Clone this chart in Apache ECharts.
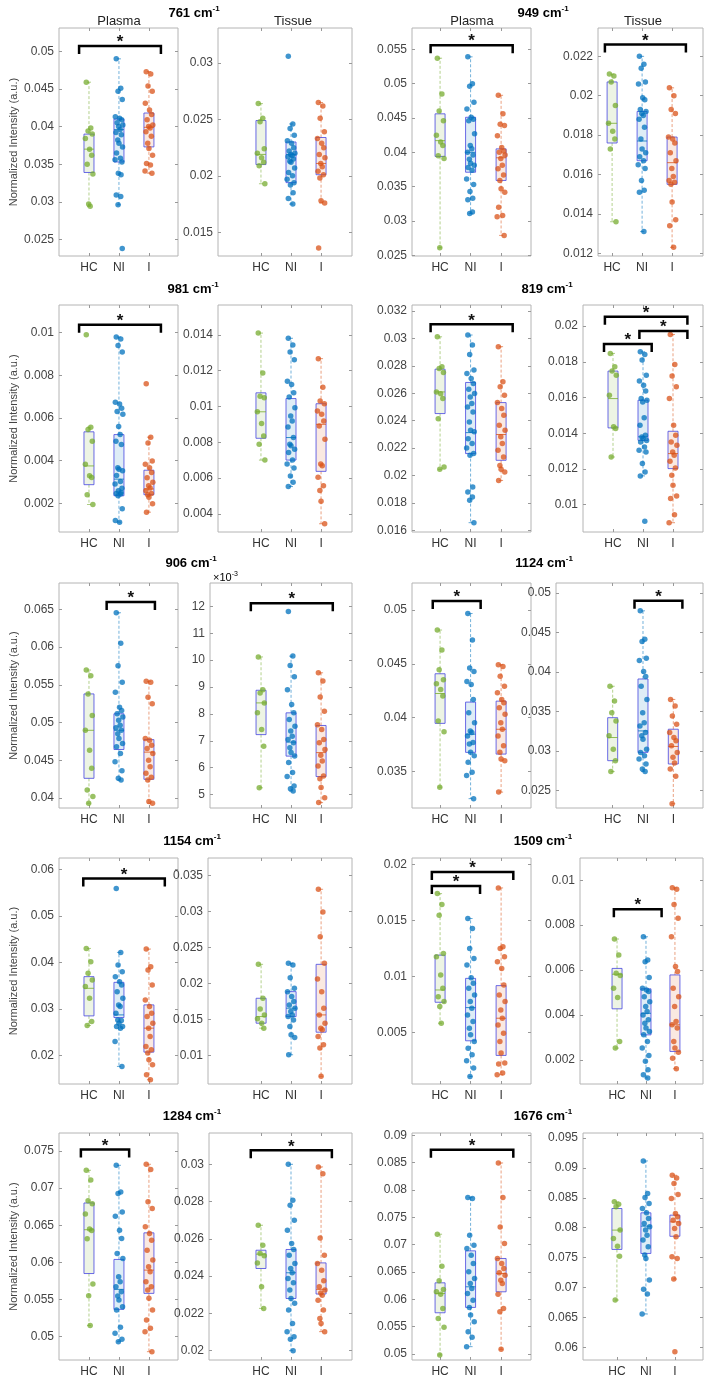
<!DOCTYPE html>
<html lang="en">

<head>
    <meta charset="UTF-8">
    <title>Raman peaks boxplots</title>
    <script src="https://cdn.jsdelivr.net/npm/echarts@6.0.0/dist/echarts.min.js"></script>
    <style>
        body { margin: 0; background: #fff; }
    </style>
</head>

<body>
    <div id="main" style="width: 709px;height:1382px;"></div>
    <script type="text/javascript">
        // groups and peaks
        const groups = ['HC', 'NI', 'I'];
        const peaks = ['761', '949', '981', '819', '906', '1124', '1154', '1509', '1284', '1676'];

        // each panel: points per group [HC, NI, I], box [low whisker, q1, median, q3, high whisker], tick values
        const plasma761 = [
            [0.0459, 0.0398, 0.0394, 0.0390, 0.0384, 0.0370, 0.0362, 0.0350, 0.0337, 0.0297, 0.0294],
            [0.0490, 0.0451, 0.0447, 0.0436, 0.0413, 0.0411, 0.0409, 0.0405, 0.0402, 0.0400, 0.0396, 0.0392, 0.0389, 0.0382, 0.0378, 0.0373, 0.0365, 0.0358, 0.0356, 0.0353, 0.0338, 0.0336, 0.0309, 0.0307, 0.0296, 0.0238],
            [0.0473, 0.0470, 0.0454, 0.0447, 0.0431, 0.0422, 0.0416, 0.0409, 0.0402, 0.0400, 0.0398, 0.0393, 0.0387, 0.0378, 0.0371, 0.0362, 0.0351, 0.0349, 0.0341, 0.0338]
        ];
        const plasma761Box = [[0.0294, 0.0339, 0.0370, 0.0390, 0.0459], [0.0296, 0.0353, 0.0396, 0.0410, 0.0490], [0.0338, 0.0373, 0.0399, 0.0418, 0.0473]];
        const plasma761Ticks = [0.025, 0.03, 0.035, 0.04, 0.045, 0.05];

        const tissue761 = [
            [0.0264, 0.0251, 0.0248, 0.0224, 0.0220, 0.0216, 0.0212, 0.0209, 0.0193],
            [0.0306, 0.0246, 0.0242, 0.0236, 0.0231, 0.0229, 0.0225, 0.0222, 0.0220, 0.0219, 0.0218, 0.0217, 0.0215, 0.0213, 0.0212, 0.0207, 0.0203, 0.0200, 0.0197, 0.0194, 0.0192, 0.0185, 0.0180, 0.0175],
            [0.0265, 0.0262, 0.0251, 0.0239, 0.0233, 0.0229, 0.0225, 0.0219, 0.0216, 0.0211, 0.0208, 0.0204, 0.0201, 0.0198, 0.0178, 0.0176, 0.0136]
        ];
        const tissue761Box = [[0.0193, 0.0210, 0.0219, 0.0249, 0.0264], [0.0175, 0.0194, 0.0219, 0.0230, 0.0246], [0.0176, 0.0201, 0.0211, 0.0234, 0.0265]];
        const tissue761Ticks = [0.015, 0.02, 0.025, 0.03];

        const plasma949 = [
            [0.0537, 0.0485, 0.0460, 0.0446, 0.0425, 0.0415, 0.0410, 0.0395, 0.0391, 0.0261],
            [0.0539, 0.0500, 0.0496, 0.0473, 0.0463, 0.0451, 0.0448, 0.0446, 0.0427, 0.0410, 0.0405, 0.0400, 0.0396, 0.0390, 0.0384, 0.0381, 0.0378, 0.0374, 0.0361, 0.0353, 0.0343, 0.0333, 0.0331, 0.0313, 0.0311],
            [0.0483, 0.0456, 0.0441, 0.0439, 0.0424, 0.0407, 0.0402, 0.0400, 0.0396, 0.0391, 0.0381, 0.0376, 0.0367, 0.0359, 0.0347, 0.0342, 0.0320, 0.0308, 0.0306, 0.0279]
        ];
        const plasma949Box = [[0.0261, 0.0394, 0.0417, 0.0456, 0.0537], [0.0311, 0.0371, 0.0400, 0.0451, 0.0539], [0.0279, 0.0359, 0.0392, 0.0405, 0.0483]];
        const plasma949Ticks = [0.025, 0.03, 0.035, 0.04, 0.045, 0.05, 0.055];

        const tissue949 = [
            [0.0211, 0.0210, 0.0207, 0.0195, 0.0186, 0.0182, 0.0178, 0.0173, 0.0136],
            [0.0220, 0.0216, 0.0214, 0.0207, 0.0206, 0.0199, 0.0198, 0.0193, 0.0192, 0.0191, 0.0190, 0.0188, 0.0184, 0.0178, 0.0173, 0.0171, 0.0169, 0.0167, 0.0165, 0.0163, 0.0157, 0.0152, 0.0151, 0.0131],
            [0.0204, 0.0200, 0.0193, 0.0191, 0.0179, 0.0178, 0.0176, 0.0171, 0.0167, 0.0163, 0.0159, 0.0157, 0.0156, 0.0155, 0.0146, 0.0137, 0.0134, 0.0123]
        ];
        const tissue949Box = [[0.0136, 0.0176, 0.0186, 0.0207, 0.0211], [0.0131, 0.0167, 0.0177, 0.0192, 0.0220], [0.0123, 0.0155, 0.0166, 0.0179, 0.0204]];
        const tissue949Ticks = [0.012, 0.014, 0.016, 0.018, 0.02, 0.022];

        const plasma981 = [
            [0.0099, 0.00557, 0.00546, 0.00491, 0.00383, 0.00329, 0.00321, 0.0024, 0.00194],
            [0.0098, 0.0097, 0.0094, 0.0091, 0.00674, 0.00665, 0.00646, 0.0063, 0.00618, 0.0056, 0.00522, 0.00491, 0.00476, 0.00367, 0.00359, 0.00352, 0.0033, 0.00302, 0.0029, 0.0027, 0.00259, 0.0025, 0.00246, 0.00243, 0.00235, 0.00174, 0.00119, 0.00111],
            [0.0076, 0.0051, 0.00483, 0.00398, 0.00383, 0.00367, 0.00344, 0.0032, 0.00298, 0.00282, 0.00271, 0.00259, 0.00246, 0.0024, 0.00228, 0.00197, 0.00158]
        ];
        const plasma981Box = [[0.00194, 0.00287, 0.00375, 0.00535, 0.00557], [0.00111, 0.00235, 0.00313, 0.00522, 0.0098], [0.00158, 0.0024, 0.00267, 0.00355, 0.0051]];
        const plasma981Ticks = [0.002, 0.004, 0.006, 0.008, 0.01];

        const tissue981 = [
            [0.0141, 0.01187, 0.01057, 0.01048, 0.0097, 0.00904, 0.00835, 0.00789, 0.0070],
            [0.01381, 0.01344, 0.01304, 0.01261, 0.01141, 0.01122, 0.01076, 0.01052, 0.00993, 0.00946, 0.00919, 0.00885, 0.00826, 0.00789, 0.0078, 0.00761, 0.00742, 0.0070, 0.00678, 0.00656, 0.00611, 0.00576, 0.00552],
            [0.01267, 0.01107, 0.0103, 0.01015, 0.00974, 0.00956, 0.00919, 0.00891, 0.00817, 0.00678, 0.00669, 0.00604, 0.00557, 0.0053, 0.0047, 0.00344]
        ];
        const tissue981Box = [[0.0070, 0.00822, 0.0097, 0.01076, 0.0141], [0.00552, 0.0070, 0.00826, 0.01044, 0.01381], [0.00344, 0.00637, 0.0090, 0.01015, 0.01267]];
        const tissue981Ticks = [0.004, 0.006, 0.008, 0.01, 0.012, 0.014];

        const plasma819 = [
            [0.03012, 0.02793, 0.0278, 0.02752, 0.0261, 0.02597, 0.02561, 0.02415, 0.02062, 0.02045],
            [0.03025, 0.02952, 0.02883, 0.02769, 0.02744, 0.02708, 0.02671, 0.0263, 0.02598, 0.02573, 0.02525, 0.025, 0.02464, 0.0239, 0.0233, 0.0232, 0.02269, 0.02233, 0.02201, 0.0216, 0.02148, 0.01916, 0.0188, 0.01843, 0.01819, 0.01656],
            [0.0294, 0.02684, 0.02647, 0.02586, 0.02532, 0.02489, 0.0244, 0.02367, 0.0233, 0.02282, 0.02233, 0.02184, 0.02135, 0.02074, 0.02045, 0.02026, 0.01964]
        ];
        const plasma819Box = [[0.02045, 0.02452, 0.0261, 0.02776, 0.03012], [0.01656, 0.0216, 0.02313, 0.02679, 0.03025], [0.01964, 0.02111, 0.02299, 0.02532, 0.0294]];
        const plasma819Ticks = [0.016, 0.018, 0.02, 0.022, 0.024, 0.026, 0.028, 0.03, 0.032];

        const tissue819 = [
            [0.01847, 0.01772, 0.01748, 0.01725, 0.01613, 0.01436, 0.01426, 0.01267],
            [0.01856, 0.01841, 0.0181, 0.01725, 0.01692, 0.01669, 0.01636, 0.01594, 0.01585, 0.01575, 0.01486, 0.01445, 0.01389, 0.01379, 0.0137, 0.0136, 0.01351, 0.01323, 0.01305, 0.01295, 0.0123, 0.01183, 0.01161, 0.00907],
            [0.01953, 0.01785, 0.01721, 0.0166, 0.01594, 0.01445, 0.01389, 0.01351, 0.01333, 0.01295, 0.01277, 0.01243, 0.01206, 0.01165, 0.01109, 0.01049, 0.01034, 0.00944, 0.00899]
        ];
        const tissue819Box = [[0.01267, 0.0143, 0.01594, 0.01748, 0.01847], [0.01161, 0.0136, 0.0138, 0.01585, 0.01856], [0.00899, 0.01202, 0.01286, 0.01411, 0.01953]];
        const tissue819Ticks = [0.01, 0.012, 0.014, 0.016, 0.018, 0.02];

        const plasma906 = [
            [0.05697, 0.05623, 0.05381, 0.05096, 0.04899, 0.04636, 0.04395, 0.0411, 0.04022, 0.03934],
            [0.06456, 0.06053, 0.05754, 0.05535, 0.05404, 0.05206, 0.05162, 0.05118, 0.05075, 0.05031, 0.04965, 0.04934, 0.04899, 0.04855, 0.04789, 0.04724, 0.0468, 0.04592, 0.04482, 0.04364, 0.04263, 0.04241],
            [0.05548, 0.05535, 0.05338, 0.0525, 0.0479, 0.04768, 0.04702, 0.04658, 0.04592, 0.04504, 0.04417, 0.04329, 0.04276, 0.04241, 0.03956, 0.03934]
        ];
        const plasma906Box = [[0.03934, 0.04263, 0.04899, 0.05381, 0.05697], [0.04241, 0.04645, 0.04899, 0.05118, 0.06456], [0.03934, 0.0425, 0.0461, 0.04776, 0.05548]];
        const plasma906Ticks = [0.04, 0.045, 0.05, 0.055, 0.06, 0.065];

        const tissue906 = [
            [0.01012, 0.0089, 0.00878, 0.00841, 0.00804, 0.00742, 0.0068, 0.00525],
            [0.01181, 0.01015, 0.0098, 0.00938, 0.0089, 0.00835, 0.00804, 0.00779, 0.00754, 0.00736, 0.00717, 0.00705, 0.00693, 0.00674, 0.00656, 0.00643, 0.00619, 0.00582, 0.00567, 0.00532, 0.00522, 0.00513],
            [0.00953, 0.00922, 0.00863, 0.0081, 0.0076, 0.00742, 0.00705, 0.00693, 0.00668, 0.00646, 0.00625, 0.00606, 0.00569, 0.00559, 0.00526, 0.00488, 0.0047]
        ];
        const tissue906Box = [[0.00525, 0.00723, 0.00841, 0.00888, 0.01012], [0.00513, 0.00643, 0.00695, 0.00804, 0.01015], [0.0047, 0.00567, 0.00656, 0.00757, 0.00953]];
        const tissue906Ticks = [0.005, 0.006, 0.007, 0.008, 0.009, 0.010, 0.011, 0.012];

        const plasma1124 = [
            [0.04815, 0.0463, 0.04445, 0.04353, 0.04316, 0.04261, 0.042, 0.03969, 0.03867, 0.03352],
            [0.04969, 0.04723, 0.04461, 0.0443, 0.04337, 0.04307, 0.04168, 0.04045, 0.03952, 0.03876, 0.0386, 0.03829, 0.03768, 0.03753, 0.03676, 0.03645, 0.03583, 0.03491, 0.0346, 0.03245],
            [0.04492, 0.04476, 0.04384, 0.04291, 0.0423, 0.04168, 0.04137, 0.04091, 0.0403, 0.03952, 0.03891, 0.03829, 0.03737, 0.03676, 0.03614, 0.03599, 0.03306]
        ];
        const plasma1124Box = [[0.03352, 0.03946, 0.04224, 0.04408, 0.04815], [0.03245, 0.03676, 0.03845, 0.04144, 0.04969], [0.03306, 0.0366, 0.03891, 0.04153, 0.04492]];
        const plasma1124Ticks = [0.035, 0.04, 0.045, 0.05];

        const tissue1124 = [
            [0.03819, 0.03631, 0.03484, 0.03379, 0.03191, 0.03023, 0.02877, 0.02739],
            [0.04774, 0.04414, 0.04384, 0.04175, 0.04146, 0.04007, 0.03944, 0.03819, 0.03652, 0.03484, 0.03358, 0.03317, 0.03233, 0.03191, 0.03149, 0.03023, 0.02982, 0.0294, 0.02898, 0.02835, 0.02772, 0.02739],
            [0.03652, 0.03568, 0.03442, 0.03337, 0.03233, 0.0317, 0.03128, 0.03065, 0.02982, 0.02919, 0.02848, 0.02772, 0.0268, 0.02332]
        ];
        const tissue1124Box = [[0.02739, 0.02877, 0.0317, 0.03421, 0.03819], [0.02739, 0.02982, 0.03254, 0.03911, 0.04774], [0.02332, 0.02835, 0.03057, 0.03275, 0.03652]];
        const tissue1124Ticks = [0.025, 0.03, 0.035, 0.04, 0.045, 0.05];

        const plasma1154 = [
            [0.043, 0.04014, 0.03764, 0.03621, 0.03479, 0.03229, 0.02729, 0.02643],
            [0.05586, 0.04214, 0.03943, 0.038, 0.03693, 0.03586, 0.03514, 0.03371, 0.03229, 0.03086, 0.0305, 0.02907, 0.0275, 0.02764, 0.02693, 0.0262, 0.02621, 0.02586, 0.023, 0.01764],
            [0.04286, 0.03907, 0.03836, 0.03514, 0.03193, 0.0305, 0.02907, 0.02836, 0.02693, 0.02586, 0.02407, 0.02193, 0.02121, 0.0205, 0.01907, 0.018, 0.01586, 0.01479]
        ];
        const plasma1154Box = [[0.02643, 0.0285, 0.03443, 0.03693, 0.043], [0.01764, 0.02814, 0.02871, 0.03571, 0.04214], [0.01479, 0.02071, 0.02586, 0.03086, 0.04286]];
        const plasma1154Ticks = [0.02, 0.03, 0.04, 0.05, 0.06];

        const tissue1154 = [
            [0.02264, 0.01793, 0.01645, 0.01562, 0.01507, 0.01447, 0.01378],
            [0.02278, 0.02255, 0.02079, 0.01932, 0.01885, 0.01816, 0.01747, 0.01701, 0.01655, 0.01609, 0.01562, 0.01539, 0.01493, 0.01401, 0.01286, 0.01249, 0.01009],
            [0.03306, 0.02992, 0.02647, 0.02278, 0.02061, 0.01885, 0.01655, 0.01562, 0.01447, 0.01378, 0.01355, 0.01263, 0.01147, 0.01101, 0.0071]
        ];
        const tissue1154Box = [[0.01378, 0.01447, 0.01539, 0.01793, 0.02264], [0.01009, 0.01539, 0.01655, 0.01885, 0.02278], [0.0071, 0.01322, 0.01562, 0.02264, 0.03306]];
        const tissue1154Ticks = [0.01, 0.015, 0.02, 0.025, 0.03, 0.035];

        const plasma1509 = [
            [0.01741, 0.01643, 0.01548, 0.01205, 0.01176, 0.01012, 0.00893, 0.00818, 0.00774, 0.00729, 0.0058],
            [0.01518, 0.01429, 0.0125, 0.01161, 0.01101, 0.00988, 0.00938, 0.00893, 0.00833, 0.00774, 0.00714, 0.00655, 0.00595, 0.00536, 0.00476, 0.00417, 0.00357, 0.00298, 0.00244, 0.00179, 0.00104],
            [0.01792, 0.01265, 0.0125, 0.01176, 0.01131, 0.01071, 0.00923, 0.00833, 0.00774, 0.00699, 0.00625, 0.00565, 0.00491, 0.00417, 0.00313, 0.00223, 0.00214, 0.00134, 0.00119]
        ];
        const plasma1509Box = [[0.0058, 0.00768, 0.00878, 0.0119, 0.01741], [0.00104, 0.00423, 0.0072, 0.00982, 0.01518], [0.00119, 0.00292, 0.00625, 0.00917, 0.01792]];
        const plasma1509Ticks = [0.005, 0.01, 0.015, 0.02];

        const tissue1509 = [
            [0.00738, 0.00667, 0.00585, 0.00575, 0.00519, 0.00477, 0.00281, 0.00252],
            [0.00748, 0.00644, 0.00637, 0.00566, 0.00519, 0.00511, 0.00504, 0.00481, 0.00459, 0.00437, 0.00415, 0.004, 0.00378, 0.00363, 0.00341, 0.00326, 0.00311, 0.00281, 0.00252, 0.00219, 0.00193, 0.00156, 0.00133, 0.00119],
            [0.00966, 0.0096, 0.00892, 0.0083, 0.00748, 0.00615, 0.00593, 0.00519, 0.00481, 0.00437, 0.0037, 0.00356, 0.00341, 0.00281, 0.00252, 0.00234, 0.00207, 0.0016]
        ];
        const tissue1509Box = [[0.00252, 0.00427, 0.00581, 0.00607, 0.00738], [0.00119, 0.00311, 0.00407, 0.00516, 0.00748], [0.0016, 0.00237, 0.00356, 0.00578, 0.00966]];
        const tissue1509Ticks = [0.002, 0.004, 0.006, 0.008, 0.01];

        const plasma1284 = [
            [0.0724, 0.0711, 0.0683, 0.0679, 0.0665, 0.0645, 0.0643, 0.0632, 0.0571, 0.0555, 0.0515],
            [0.07307, 0.06949, 0.06927, 0.0668, 0.06622, 0.06434, 0.06322, 0.0612, 0.06053, 0.05807, 0.0574, 0.05673, 0.05605, 0.05547, 0.05493, 0.05404, 0.05359, 0.05126, 0.05045, 0.04964, 0.04933],
            [0.07321, 0.0725, 0.06815, 0.06725, 0.06479, 0.06389, 0.06299, 0.06165, 0.06031, 0.05941, 0.05874, 0.0574, 0.05673, 0.05628, 0.05516, 0.05359, 0.05225, 0.05112, 0.05067, 0.04798]
        ];
        const plasma1284Box = [[0.0515, 0.0585, 0.0644, 0.0680, 0.0724], [0.04933, 0.05368, 0.05637, 0.0604, 0.07307], [0.04798, 0.05583, 0.05896, 0.06398, 0.07321]];
        const plasma1284Ticks = [0.05, 0.055, 0.06, 0.065, 0.07, 0.075];

        const tissue1284 = [
            [0.02673, 0.02566, 0.02521, 0.02509, 0.02471, 0.02343, 0.02227],
            [0.030, 0.02807, 0.0278, 0.027, 0.02646, 0.02575, 0.02543, 0.02512, 0.02468, 0.02441, 0.02418, 0.02387, 0.02364, 0.02325, 0.0228, 0.02254, 0.02218, 0.02146, 0.02102, 0.02075, 0.02061, 0.020],
            [0.02986, 0.0295, 0.02604, 0.02512, 0.02468, 0.02432, 0.02375, 0.02343, 0.02325, 0.0231, 0.02298, 0.02271, 0.02218, 0.02173, 0.02146, 0.02102]
        ];
        const tissue1284Box = [[0.02227, 0.02441, 0.02518, 0.02539, 0.02673], [0.020, 0.0228, 0.02418, 0.02543, 0.030], [0.02102, 0.02304, 0.02329, 0.02471, 0.02986]];
        const tissue1284Ticks = [0.02, 0.022, 0.024, 0.026, 0.028, 0.03];

        const plasma1676 = [
            [0.07191, 0.06607, 0.06339, 0.0618, 0.06137, 0.06095, 0.05833, 0.0565, 0.05487, 0.04982],
            [0.07861, 0.07843, 0.07173, 0.0699, 0.06929, 0.06808, 0.06656, 0.06503, 0.06381, 0.0629, 0.06199, 0.06107, 0.05985, 0.05852, 0.05712, 0.0559, 0.05408, 0.05305, 0.05134],
            [0.08495, 0.07861, 0.07325, 0.0702, 0.06747, 0.06656, 0.06564, 0.06485, 0.06442, 0.06351, 0.0629, 0.06095, 0.05833, 0.05772, 0.05085]
        ];
        const plasma1676Box = [[0.04982, 0.05754, 0.06107, 0.06302, 0.07191], [0.05134, 0.05852, 0.06229, 0.06887, 0.07861], [0.05085, 0.06138, 0.06473, 0.06747, 0.08495]];
        const plasma1676Ticks = [0.05, 0.055, 0.06, 0.065, 0.07, 0.075, 0.08, 0.085, 0.09];

        const tissue1676 = [
            [0.08432, 0.08393, 0.08349, 0.0796, 0.0782, 0.07692, 0.07525, 0.06791],
            [0.09116, 0.08571, 0.08504, 0.08404, 0.08321, 0.08249, 0.08154, 0.08071, 0.08015, 0.0796, 0.07876, 0.07793, 0.07681, 0.07542, 0.07487, 0.07125, 0.0697, 0.06892, 0.06558],
            [0.08877, 0.08832, 0.08738, 0.08554, 0.08488, 0.08237, 0.08182, 0.08126, 0.08071, 0.07987, 0.07848, 0.07514, 0.07487, 0.07142, 0.05928]
        ];
        const tissue1676Box = [[0.06791, 0.07637, 0.0796, 0.08321, 0.08432], [0.06558, 0.0757, 0.08026, 0.08249, 0.09116], [0.07142, 0.07857, 0.08098, 0.0821, 0.08877]];
        const tissue1676Ticks = [0.06, 0.065, 0.07, 0.075, 0.08, 0.085, 0.09, 0.095];

        // layout
        const FONT = 'Liberation Sans, Arial, sans-serif';
        const colors = ['#77AC30', '#0072BD', '#D95319'];
        const fills = ['rgba(119,172,48,0.13)', 'rgba(0,114,189,0.13)', 'rgba(217,83,25,0.13)'];
        const rowTop = [28, 305, 583, 858, 1133];
        const rowBottom = [256, 532, 808, 1084, 1360];
        const jitter = [-0.09, 0.06, -0.03, 0.11, -0.12, 0.02, 0.09, -0.06, 0.13, -0.01, 0.04, -0.1, 0.08, -0.04, 0.0, 0.12, -0.08, 0.05, -0.13, 0.1, -0.02, 0.07];

        // sig: [x from, x to, y level] of the significance brackets
        const panels = [
            { pts: plasma761, box: plasma761Box, ticks: plasma761Ticks, row: 0, l: 59, r: 178, x: [0, 3.97], y: [0.0228, 0.0531], sig: [[0.67, 3.4, 0.0507]] },
            { pts: tissue761, box: tissue761Box, ticks: tissue761Ticks, row: 0, l: 218, r: 352, x: [-0.43, 4.03], y: [0.0129, 0.0331], sig: [] },
            { pts: plasma949, box: plasma949Box, ticks: plasma949Ticks, row: 0, l: 412, r: 531, x: [0.08, 3.98], y: [0.0249, 0.0581], sig: [[0.69, 3.38, 0.0556]] },
            { pts: tissue949, box: tissue949Box, ticks: tissue949Ticks, row: 0, l: 598, r: 703, x: [0.53, 4.03], y: [0.01186, 0.02344], sig: [[0.76, 3.46, 0.0226]] },
            { pts: plasma981, box: plasma981Box, ticks: plasma981Ticks, row: 1, l: 59, r: 178, x: [0, 3.97], y: [0.00065, 0.0113], sig: [[0.67, 3.4, 0.01037]] },
            { pts: tissue981, box: tissue981Box, ticks: tissue981Ticks, row: 1, l: 218, r: 352, x: [-0.43, 4.03], y: [0.00298, 0.01567], sig: [] },
            { pts: plasma819, box: plasma819Box, ticks: plasma819Ticks, row: 1, l: 412, r: 531, x: [0.08, 3.98], y: [0.01588, 0.03244], sig: [[0.69, 3.38, 0.03103]] },
            { pts: tissue819, box: tissue819Box, ticks: tissue819Ticks, row: 1, l: 583, r: 703, x: [0, 4.0], y: [0.00847, 0.02118], sig: [[0.73, 3.48, 0.02052], [1.88, 3.48, 0.01972], [0.7, 2.29, 0.01899]] },
            { pts: plasma906, box: plasma906Box, ticks: plasma906Ticks, row: 2, l: 59, r: 178, x: [0, 3.97], y: [0.0387, 0.0685], sig: [[1.59, 3.2, 0.066]] },
            { pts: tissue906, box: tissue906Box, ticks: tissue906Ticks, row: 2, l: 210, r: 352, x: [-0.7, 4.03], y: [0.0045, 0.01287], sig: [[0.66, 3.39, 0.01212]], milli: true },
            { pts: plasma1124, box: plasma1124Box, ticks: plasma1124Ticks, row: 2, l: 412, r: 531, x: [0.08, 3.98], y: [0.03158, 0.05253], sig: [[0.76, 2.33, 0.05086]] },
            { pts: tissue1124, box: tissue1124Box, ticks: tissue1124Ticks, row: 2, l: 556, r: 703, x: [-0.87, 3.98], y: [0.02278, 0.05126], sig: [[1.72, 3.3, 0.049]] },
            { pts: plasma1154, box: plasma1154Box, ticks: plasma1154Ticks, row: 3, l: 59, r: 178, x: [0, 3.97], y: [0.01386, 0.06243], sig: [[0.81, 3.53, 0.058]] },
            { pts: tissue1154, box: tissue1154Box, ticks: tissue1154Ticks, row: 3, l: 208, r: 352, x: [-0.77, 4.03], y: [0.00603, 0.0374], sig: [] },
            { pts: plasma1509, box: plasma1509Box, ticks: plasma1509Ticks, row: 3, l: 412, r: 531, x: [0.08, 3.98], y: [0.00036, 0.0206], sig: [[0.73, 3.4, 0.01935], [0.73, 2.31, 0.0181]] },
            { pts: tissue1509, box: tissue1509Box, ticks: tissue1509Ticks, row: 3, l: 580, r: 703, x: [-0.28, 3.97], y: [0.00092, 0.01099], sig: [[0.89, 2.54, 0.00871]] },
            { pts: plasma1284, box: plasma1284Box, ticks: plasma1284Ticks, row: 4, l: 59, r: 178, x: [0, 3.97], y: [0.04686, 0.07742], sig: [[0.73, 2.34, 0.0752]] },
            { pts: tissue1284, box: tissue1284Box, ticks: tissue1284Ticks, row: 4, l: 209, r: 352, x: [-0.73, 4.03], y: [0.0195, 0.03168], sig: [[0.66, 3.36, 0.03075]] },
            { pts: plasma1676, box: plasma1676Box, ticks: plasma1676Ticks, row: 4, l: 412, r: 531, x: [0.08, 3.98], y: [0.0489, 0.09043], sig: [[0.70, 3.4, 0.08738]] },
            { pts: tissue1676, box: tissue1676Box, ticks: tissue1676Ticks, row: 4, l: 583, r: 703, x: [-0.17, 3.97], y: [0.05789, 0.09583], sig: [] }
        ];

        // peak title positions, two per row
        const titlePos = [[194, 13], [543, 13], [193, 289], [547, 289], [191, 563], [544, 563], [192, 841], [543, 841], [192, 1116], [543, 1116]];

        function renderBox(params, api) {
            const g = api.value(0);
            const c = api.coord([g, api.value(4)]);
            const cx = c[0];
            const yLo = api.coord([g, api.value(1)])[1];
            const yQ1 = api.coord([g, api.value(2)])[1];
            const yMd = api.coord([g, api.value(3)])[1];
            const yQ3 = c[1];
            const yHi = api.coord([g, api.value(5)])[1];
            const hw = 5;
            const col = colors[g - 1];
            const dash = { stroke: col, opacity: 0.55, lineWidth: 1, lineDash: [3, 2] };
            const cap = { stroke: col, opacity: 0.6, lineWidth: 1 };
            return {
                type: 'group',
                children: [
                    { type: 'line', shape: { x1: cx, y1: yQ3, x2: cx, y2: yHi }, style: dash },
                    { type: 'line', shape: { x1: cx, y1: yQ1, x2: cx, y2: yLo }, style: dash },
                    { type: 'line', shape: { x1: cx - 2, y1: yHi, x2: cx + 2, y2: yHi }, style: cap },
                    { type: 'line', shape: { x1: cx - 2, y1: yLo, x2: cx + 2, y2: yLo }, style: cap },
                    { type: 'rect', shape: { x: cx - hw, y: yQ3, width: hw * 2, height: yQ1 - yQ3 }, style: { fill: fills[g - 1], stroke: 'rgba(70,70,225,0.8)', lineWidth: 1 } },
                    { type: 'line', shape: { x1: cx - hw, y1: yMd, x2: cx + hw, y2: yMd }, style: { stroke: col, lineWidth: 1, opacity: 0.8 } }
                ]
            };
        }

        function renderBracket(params, api) {
            const a = api.coord([api.value(0), api.value(2)]);
            const b = api.coord([api.value(1), api.value(2)]);
            const leg = 8;
            return {
                type: 'group',
                children: [
                    { type: 'polyline', shape: { points: [[a[0], a[1] + leg], [a[0], a[1]], [b[0], a[1]], [b[0], a[1] + leg]] }, style: { stroke: '#000', lineWidth: 2.5, fill: null } },
                    { type: 'text', x: (a[0] + b[0]) / 2, y: a[1] - 12, style: { text: '*', fill: '#111', font: 'bold 17px ' + FONT, align: 'center', verticalAlign: 'top' } }
                ]
            };
        }

        const grids = [], xAxes = [], yAxes = [], series = [], graphics = [];
        panels.forEach((p, i) => {
            const top = rowTop[p.row], bottom = rowBottom[p.row];
            grids.push({ left: p.l, top: top, width: p.r - p.l, height: bottom - top, show: true, borderColor: '#b4b4b4', borderWidth: 1, backgroundColor: '#fff' });
            const xTick = { customValues: [1, 2, 3], inside: true, length: 3, lineStyle: { color: '#999' } };
            xAxes.push({
                type: 'value', gridIndex: i, min: p.x[0], max: p.x[1],
                axisLine: { show: false, onZero: false }, splitLine: { show: false },
                axisTick: xTick,
                axisLabel: { customValues: [1, 2, 3], formatter: v => groups[Math.round(v) - 1], color: '#333', fontSize: 12, fontFamily: FONT, margin: 6 }
            });
            xAxes.push({
                type: 'value', gridIndex: i, min: p.x[0], max: p.x[1], position: 'top',
                axisLine: { show: false, onZero: false }, splitLine: { show: false },
                axisTick: xTick, axisLabel: { show: false }
            });
            const tickStyle = { customValues: p.ticks, inside: true, length: 3, lineStyle: { color: '#999' } };
            yAxes.push({
                type: 'value', gridIndex: i, min: p.y[0], max: p.y[1],
                axisLine: { show: false, onZero: false }, splitLine: { show: false },
                axisTick: tickStyle,
                axisLabel: {
                    customValues: p.ticks, color: '#444', fontSize: 12, fontFamily: FONT, margin: 5,
                    formatter: v => p.milli ? String(Math.round(v * 1000)) : String(v)
                },
                name: p.l < 100 ? 'Normalized Intensity (a.u.)' : '',
                nameLocation: 'middle', nameGap: 40,
                nameTextStyle: { color: '#444', fontSize: 11, fontFamily: FONT }
            });
            yAxes.push({
                type: 'value', gridIndex: i, min: p.y[0], max: p.y[1], position: 'right',
                axisLine: { show: false, onZero: false }, splitLine: { show: false },
                axisTick: tickStyle, axisLabel: { show: false }
            });
            series.push({
                type: 'custom', xAxisIndex: 2 * i, yAxisIndex: 2 * i, z: 2,
                renderItem: renderBox,
                data: p.box.map((b, g) => [g + 1].concat(b))
            });
            p.pts.forEach((vals, g) => {
                series.push({
                    type: 'scatter', xAxisIndex: 2 * i, yAxisIndex: 2 * i, z: 3,
                    symbol: 'circle', symbolSize: 5.5,
                    itemStyle: { color: colors[g], opacity: 0.75 },
                    data: vals.map((v, k) => [g + 1 + jitter[k % jitter.length], v])
                });
            });
            if (p.sig.length) {
                series.push({
                    type: 'custom', xAxisIndex: 2 * i, yAxisIndex: 2 * i, z: 4, clip: false,
                    renderItem: renderBracket,
                    data: p.sig
                });
            }
        });

        const rich = {
            b: { fontFamily: FONT, fontWeight: 'bold', fontSize: 13, color: '#111' },
            s: { fontFamily: FONT, fontWeight: 'bold', fontSize: 8, color: '#111', verticalAlign: 'top', lineHeight: 16 }
        };
        peaks.forEach((pk, k) => {
            graphics.push({
                type: 'text', x: titlePos[k][0], y: titlePos[k][1],
                style: { text: '{b|' + pk + ' cm}{s|-1}', rich: rich, align: 'center', verticalAlign: 'middle' }
            });
        });
        [['Plasma', 119], ['Tissue', 293], ['Plasma', 472], ['Tissue', 643]].forEach(t => {
            graphics.push({
                type: 'text', x: t[1], y: 21,
                style: { text: t[0], font: '13px ' + FONT, fill: '#222', align: 'center', verticalAlign: 'middle' }
            });
        });
        graphics.push({
            type: 'text', x: 213, y: 578,
            style: {
                text: '{n|\u00d710}{s|-3}', align: 'left', verticalAlign: 'middle',
                rich: { n: { fontFamily: FONT, fontSize: 11, color: '#444' }, s: { fontFamily: FONT, fontSize: 7, color: '#444', verticalAlign: 'top', lineHeight: 14 } }
            }
        });

        const myChart = echarts.init(document.getElementById('main'));
        myChart.setOption({
            animation: false,
            backgroundColor: '#fff',
            grid: grids,
            xAxis: xAxes,
            yAxis: yAxes,
            series: series,
            graphic: graphics
        });
    </script>
</body>

</html>
